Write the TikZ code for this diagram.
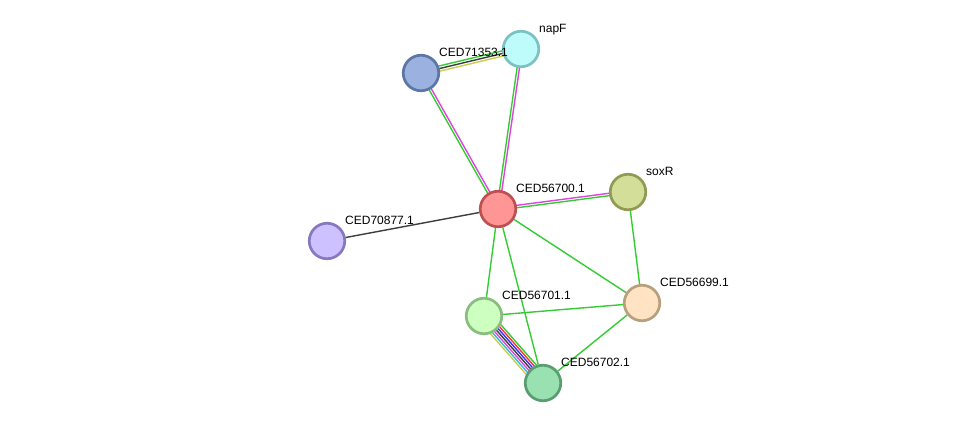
\documentclass[tikz,border=0pt]{standalone}
\usepackage{fontspec}
\setmainfont{Liberation Sans}
\usetikzlibrary{calc,backgrounds}
\definecolor{eg}{HTML}{33CC33}
\definecolor{er}{HTML}{FF3333}
\definecolor{eb}{HTML}{3333FF}
\definecolor{ek}{HTML}{3D3D3D}
\definecolor{em}{HTML}{DD44DD}
\definecolor{ec}{HTML}{33BBDD}
\definecolor{ey}{HTML}{C4D04A}
\definecolor{fn353}{HTML}{9BB2E0}\definecolor{dn353}{HTML}{5C76A6}
\definecolor{fnapf}{HTML}{BEFCFC}\definecolor{dnapf}{HTML}{7CC2C2}
\definecolor{fn700}{HTML}{FF9696}\definecolor{dn700}{HTML}{C05050}
\definecolor{fsoxr}{HTML}{D3DE99}\definecolor{dsoxr}{HTML}{909A50}
\definecolor{fn877}{HTML}{CDC2FF}\definecolor{dn877}{HTML}{8878C0}
\definecolor{fn699}{HTML}{FFE3C2}\definecolor{dn699}{HTML}{B8A07E}
\definecolor{fn701}{HTML}{CCFFC0}\definecolor{dn701}{HTML}{8BBE7E}
\definecolor{fn702}{HTML}{99E1B0}\definecolor{dn702}{HTML}{5A9D70}
\newcommand\pedge[3]{%
  \foreach \o/\c in {#3}
    \draw[edge,\c] ($(#1.center)!\o pt!90:(#2.center)$) -- ($(#2.center)!\o pt!-90:(#1.center)$);
}

\begin{document}
\begin{tikzpicture}[
  x=1pt,y=-1pt,
  prot/.style={circle,draw,line width=2.7pt,minimum size=35.5pt,inner sep=0pt},
  plabel/.style={anchor=base west,inner sep=0pt,font=\fontsize{12}{14}\selectfont},
  edge/.style={line width=1.4pt}
]
\useasboundingbox (0,0) rectangle (975,429);
\foreach \n/\x/\y in {n353/421/73,napf/521/49,n700/498/209,soxr/628/192,
    n877/327/241,n699/642/303,n701/484/316,n702/543/383}
  \node[prot,fill=f\n,draw=d\n] (\n) at (\x,\y) {};
\foreach \n/\t in {n353/CED71353.1,napf/napF,n700/CED56700.1,soxr/soxR,
    n877/CED70877.1,n699/CED56699.1,n701/CED56701.1,n702/CED56702.1}
  \node[plabel] (l\n) at ([shift={(18,-17)}]\n.center) {\t};
\begin{scope}[on background layer]
\pedge{n353}{napf}{2.6/eg,0/ek,-2.6/ey}
\pedge{n353}{n700}{1.2/em,-1.2/eg}
\pedge{napf}{n700}{1.2/em,-1.2/eg}
\pedge{n700}{soxr}{1.2/em,-1.2/eg}
\pedge{n701}{n702}{6.9/eg,4.6/er,2.3/eb,0/ek,-2.3/em,-4.6/ec,-6.9/ey}
\draw[edge,ek] (n700) -- (n877);
\foreach \a/\b in {n700/n699,n700/n701,n700/n702,soxr/n699,n701/n699,n699/n702}
  \draw[edge,eg] (\a) -- (\b);
\end{scope}
\end{tikzpicture}
\end{document}
